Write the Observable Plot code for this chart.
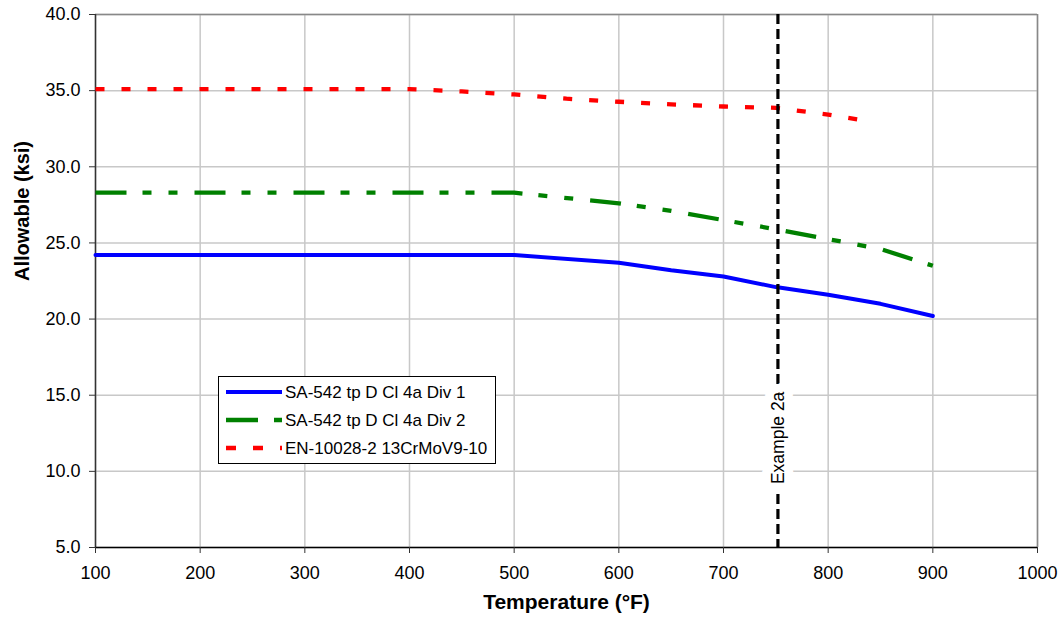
<!DOCTYPE html>
<html><head><meta charset="utf-8">
<script src="https://cdn.jsdelivr.net/npm/d3@7"></script>
<script src="https://cdn.jsdelivr.net/npm/@observablehq/plot@0.6"></script>
<style>
body{margin:0;background:#fff;font-family:"Liberation Sans",Arial,sans-serif;}
#wrap{position:relative;width:1060px;height:623px;}
#legend{position:absolute;left:218px;top:376px;width:278px;height:88px;border:1px solid #000;background:#fff;box-sizing:border-box;}
</style></head><body><div id="wrap"></div>
<script>
// Data
const temps1 = [100,200,300,400,500,600,650,700,750,800,850,900];
const div1   = [24.2,24.2,24.2,24.2,24.2,23.7,23.2,22.8,22.1,21.6,21.0,20.2];
const temps2 = [100,200,300,400,500,600,650,700,750,800,850,900];
const div2   = [28.3,28.3,28.3,28.3,28.3,27.6,27.1,26.5,25.9,25.25,24.6,23.5];
const temps3 = [100,200,300,400,450,500,550,600,650,700,750,800,842];
const en     = [35.1,35.1,35.1,35.1,34.95,34.75,34.47,34.27,34.1,33.96,33.87,33.43,32.95];
const seriesNames = ["SA-542 tp D Cl 4a Div 1","SA-542 tp D Cl 4a Div 2","EN-10028-2 13CrMoV9-10"];
const exampleT = 752;
const exampleLabel = "Example 2a";
const exampleLabelY = 12.2;
const xTicks = [100,200,300,400,500,600,700,800,900,1000];
const yTicks = [5,10,15,20,25,30,35,40];
const xTitle = "Temperature (°F)";
const yTitle = "Allowable (ksi)";

const d1 = temps1.map((t,i)=>({t, v:div1[i]}));
const d2 = temps2.map((t,i)=>({t, v:div2[i]}));
const d3 = temps3.map((t,i)=>({t, v:en[i]}));

const styles = [
  {stroke:"#0000ff", strokeWidth:4, dash:null},
  {stroke:"#008000", strokeWidth:4.3, dash:"31,16,9,17,9,17"},
  {stroke:"#ff0000", strokeWidth:4.3, dash:"9,17"}
];

const chart = Plot.plot({
  width:1060, height:623,
  marginLeft:95, marginRight:23, marginTop:14, marginBottom:76,
  x:{domain:[100,1000]},
  y:{domain:[5,40]},
  style:{fontFamily:"'Liberation Sans', Arial, sans-serif", fontSize:"18px", color:"#000", background:"#fff", overflow:"visible"},
  marks:[
    Plot.gridX(xTicks,{stroke:"#c8c8c8", strokeOpacity:1, strokeWidth:1.5}),
    Plot.gridY(yTicks,{stroke:"#c8c8c8", strokeOpacity:1, strokeWidth:1.5}),
    Plot.ruleY([40],{stroke:"#888", strokeWidth:1.5}),
    Plot.ruleX([1000],{stroke:"#888", strokeWidth:1.5}),
    Plot.ruleX([100],{stroke:"#333", strokeWidth:1.5}),
    Plot.ruleY([5],{stroke:"#000", strokeWidth:1.5}),
    Plot.axisX(xTicks,{tickSize:6, tickPadding:13, tickFormat:d=>String(d), label:null, stroke:"#333"}),
    Plot.axisY(yTicks,{tickSize:6, tickPadding:9, tickFormat:d=>d.toFixed(1), label:null, stroke:"#333"}),
    Plot.line(d3,{x:"t", y:"v", stroke:styles[2].stroke, strokeWidth:styles[2].strokeWidth, strokeDasharray:styles[2].dash, strokeLinecap:"butt"}),
    Plot.line(d2,{x:"t", y:"v", stroke:styles[1].stroke, strokeWidth:styles[1].strokeWidth, strokeDasharray:styles[1].dash, strokeLinecap:"butt"}),
    Plot.line(d1,{x:"t", y:"v", stroke:styles[0].stroke, strokeWidth:styles[0].strokeWidth}),
    Plot.ruleX([exampleT],{stroke:"#000", strokeWidth:3.2, strokeDasharray:"10,5"}),
    Plot.text([exampleLabel],{x:()=>exampleT, y:()=>exampleLabelY, text:d=>d, rotate:-90, fontSize:17.5, fill:"#000", stroke:"#fff", strokeWidth:18, strokeLinejoin:"round"}),
    Plot.text([xTitle],{frameAnchor:"bottom", dy:61, text:d=>d, fontWeight:"bold", fontSize:21, fill:"#000"}),
    Plot.text([yTitle],{frameAnchor:"left", dx:-73, rotate:-90, text:d=>d, fontWeight:"bold", fontSize:20, fill:"#000"})
  ]
});
const wrap = document.getElementById("wrap");
wrap.appendChild(chart);

// Legend
const lg = document.createElement("div");
lg.id = "legend";
const ns = "http://www.w3.org/2000/svg";
const svg = document.createElementNS(ns,"svg");
svg.setAttribute("width","278"); svg.setAttribute("height","88");
seriesNames.forEach((name,i)=>{
  const cy = 15 + i*28;
  const ln = document.createElementNS(ns,"line");
  ln.setAttribute("x1",7); ln.setAttribute("x2",63);
  ln.setAttribute("y1",cy); ln.setAttribute("y2",cy);
  ln.setAttribute("stroke",styles[i].stroke);
  ln.setAttribute("stroke-width",styles[i].strokeWidth);
  if (styles[i].dash) ln.setAttribute("stroke-dasharray", i===1 ? "32,16,9,17" : "10,17");
  svg.appendChild(ln);
  const tx = document.createElementNS(ns,"text");
  tx.setAttribute("x",66); tx.setAttribute("y",cy);
  tx.setAttribute("dy","0.35em");
  tx.setAttribute("font-size","17");
  tx.setAttribute("font-family","'Liberation Sans', Arial, sans-serif");
  tx.textContent = name;
  svg.appendChild(tx);
});
lg.appendChild(svg);
wrap.appendChild(lg);
</script></body></html>
